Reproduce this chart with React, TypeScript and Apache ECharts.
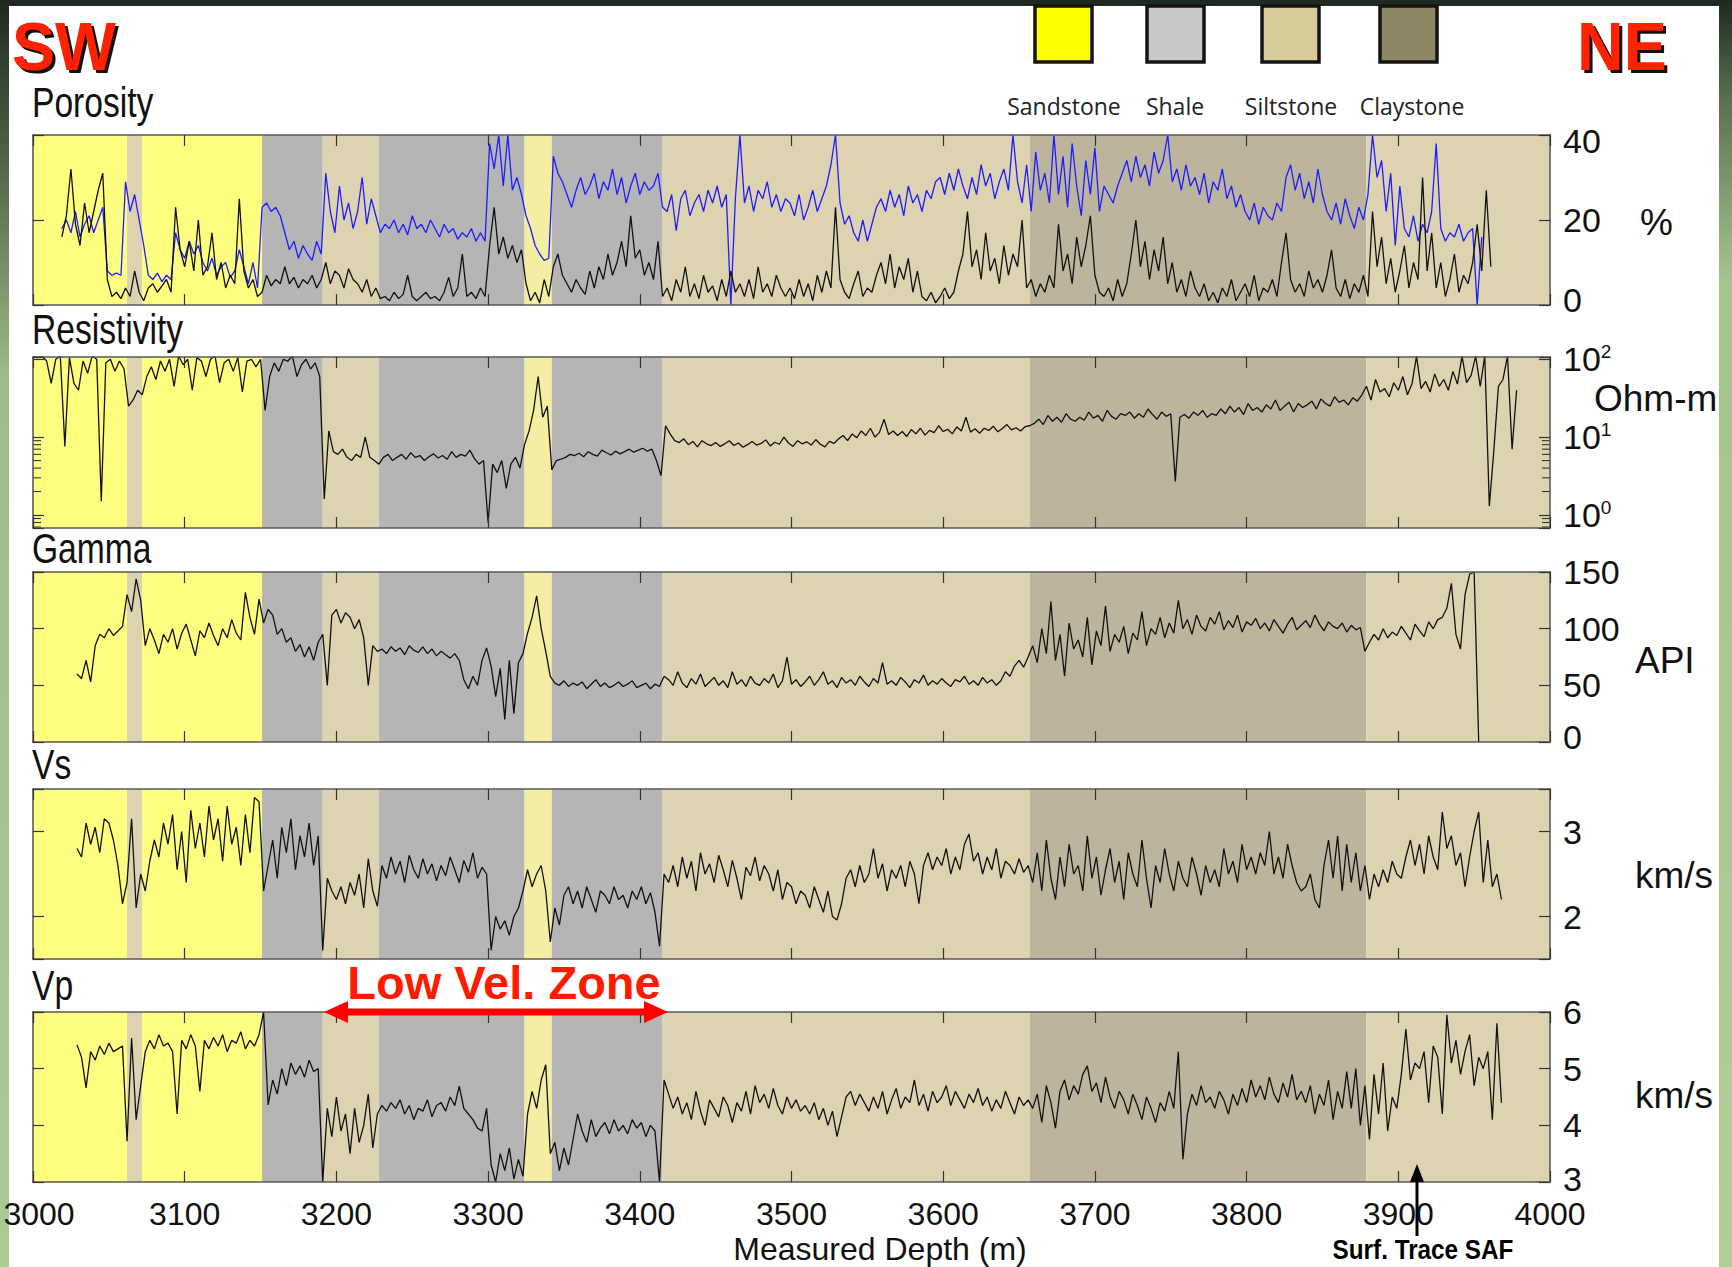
import React, { useEffect, useRef } from "react";
import * as echarts from "echarts";

// ---------- axes ----------
const DEPTH_MIN = 3000;
const DEPTH_MAX = 4000;
const DEPTH_INTERVAL = 100;
const SAMPLE_STEP = 3; // metres between samples

// ---------- lithology ----------
const LITHOLOGY_NAMES = ["Sandstone", "Shale", "Siltstone", "Claystone"];
const LEGEND_COLORS = ["#ffff00", "#c9c9c9", "#d9cc9c", "#8f8665"];
// band colours: 0 sandstone, 1 shale, 2 siltstone, 3 claystone-ish, 4 pale sandstone
const BAND_COLORS = ["#fdfd80", "#b5b5b5", "#ddd3b1", "#bcb49d", "#f4eea2"];
const BAND_TOP = [3000, 3062, 3072, 3151, 3191, 3228, 3324, 3342, 3415, 3657, 3879];
const BAND_BOTTOM = [3062, 3072, 3151, 3191, 3228, 3324, 3342, 3415, 3657, 3879, 4000];
const BAND_TYPE = [0, 2, 0, 1, 2, 1, 4, 1, 2, 3, 2];

// ---------- panels ----------
const PANEL_TITLES = ["Porosity", "Resistivity", "Gamma", "Vs", "Vp"];
const PANEL_UNITS = ["%", "Ohm-m", "API", "km/s", "km/s"];
const RES_MINOR_TICKS = [0.7, 0.8, 0.9, 2, 3, 4, 5, 6, 7, 8, 9];

// ---------- logs (value every SAMPLE_STEP m from the start depth) ----------
const POR_BLACK_START = 3019;
const POR_BLACK = [
  16, 21, 32, 19, 14, 24, 17, 22, 27, 31,
  6, 2, 3, 1.5, 4, 2, 8, 3, 1, 4,
  5, 3, 4.5, 6, 3, 23, 13, 9, 15, 8,
  20, 7, 9, 17, 6, 10, 4, 7, 5, 25,
  8, 4, 6, 2, 3, 7, 4.5, 6, 5, 9,
  5, 6.5, 4, 6, 5, 7, 4, 6, 10, 5,
  8, 7, 4, 8.5, 6, 5, 3, 6, 2, 4,
  1.5, 2, 1, 3, 1.5, 2.5, 7, 2, 1, 2,
  3, 1.5, 2, 1, 3, 6.5, 2, 4, 12, 2,
  3, 1.5, 4, 2, 14, 23, 12, 16, 11, 14,
  10, 13, 5, 1, 3, 0.5, 6, 2, 9, 12,
  7, 5, 3, 6, 4, 2.5, 8, 4, 9, 6,
  12, 7, 10, 15, 9, 21, 11, 13, 7, 10,
  6, 15, 2, 4, 1, 6, 3, 9, 2, 5,
  1.5, 7, 3, 4.5, 1, 6, 2, 8, 3, 5,
  2, 6, 1.5, 9, 3, 5, 2, 7, 4, 2,
  4, 1.5, 6, 2, 5, 1, 7, 3, 8, 4,
  23, 6, 3, 1.5, 5, 8, 2, 4, 3, 7,
  10, 5, 12, 4, 9, 6, 11, 3, 8, 2,
  1, 3, 0.5, 2, 4, 1.5, 3, 8, 12, 22,
  9, 13, 6, 17, 8, 11, 5, 14, 7, 12,
  9, 20, 4, 6, 2, 5, 3, 7, 4, 19,
  8, 12, 5, 16, 9, 14, 21, 7, 3, 2,
  4, 1, 6, 2, 5, 12, 20, 9, 15, 6,
  13, 8, 16, 5, 10, 3, 6, 2, 8, 4,
  2, 5, 1, 3, 0.5, 4, 2, 6, 1, 3,
  5, 2, 7, 1, 4, 3, 6, 2, 10, 17,
  6, 3, 5, 2, 8, 4, 6, 3, 7, 13,
  4, 2, 6, 1.5, 5, 3, 7, 2, 22, 9,
  16, 5, 11, 3, 8, 14, 4, 10, 6, 30,
  8, 17, 4, 10, 2, 6, 12, 3, 7, 5,
  10, 19, 8, 27, 9,
];

const POR_BLUE_START = 3019;
const POR_BLUE = [
  18, 20, 17, 22, 16, 19, 21, 17, 20, 23,
  8, 7, 7.5, 7, 29, 22, 26, 20, 14, 7,
  6, 7.5, 5.5, 7, 6, 17, 13, 11, 15, 12,
  14, 10, 8, 11, 7, 9, 10, 6.5, 8, 13,
  9, 5, 10, 4, 23, 24, 22, 23, 21, 17,
  13, 15, 11, 14, 12, 10.5, 15, 12, 31, 22,
  17, 28, 20, 24, 18, 22, 30, 19, 25, 21,
  17, 19, 18, 20, 17, 19, 16.5, 21, 18, 19,
  17, 20, 18, 16, 19, 17, 18, 15.5, 17, 16,
  18, 15, 17, 15, 38, 32, 40, 28, 40, 27,
  30, 26, 21, 18, 14, 12, 10.5, 11, 35, 31,
  29, 26, 23, 27, 30, 26, 28, 31, 25, 29,
  27, 32, 26, 30, 24, 28, 31, 26, 29, 27,
  28, 31, 23, 22, 26, 17.5, 25, 27, 21, 24,
  26, 22, 27, 24, 28, 23, 26, 0, 25, 40,
  24, 28, 22, 27, 25, 29, 23, 26, 22, 25,
  24, 21, 26, 20, 23, 27, 22, 25, 28, 33,
  40, 24, 19, 21, 17, 15, 20, 15, 19, 23,
  25, 22, 27, 23, 26, 21, 28, 24, 26, 22,
  27, 25, 29, 30, 26, 31, 27, 32, 28, 25,
  30, 26, 33, 28, 31, 25, 29, 32, 27, 40,
  29, 24, 33, 22, 36, 27, 31, 24, 40, 26,
  35, 23, 38, 28, 21, 34, 26, 37, 22, 28,
  26, 24, 28, 31, 34, 29, 35, 30, 33, 28,
  36, 31, 34, 40, 29, 32, 27, 33, 28, 30,
  26, 31, 24, 29, 27, 32, 25, 28, 23, 26,
  22, 20, 24, 19, 23, 21, 20, 24, 22, 30,
  33, 27, 31, 25, 29, 24, 32, 26, 22, 20,
  24, 19, 25, 21, 18, 23, 20, 26, 40, 30,
  34, 22, 31, 14, 28, 18, 16, 21, 15, 19,
  17, 22, 38, 18, 15, 17, 16, 19, 15, 17,
  18, 0, 16,
];

const RES_START = 3000;
const RESISTIVITY = [
  110, 105, 110, 95, 49, 100, 110, 7.6, 105, 49,
  40, 95, 66, 110, 100, 1.5, 90, 100, 70, 95,
  75, 25, 30, 40, 35, 60, 80, 55, 95, 70,
  100, 45, 110, 85, 100, 40, 105, 95, 60, 100,
  110, 50, 90, 100, 70, 105, 38, 95, 100, 80,
  100, 22, 60, 90, 70, 100, 95, 110, 60, 85,
  100, 75, 90, 60, 1.6, 12, 6.5, 6, 7, 5.5,
  5, 6, 5.5, 10, 5.5, 5, 4.5, 5.5, 6, 5,
  5.5, 6, 5.2, 6.3, 5.5, 5.8, 5, 5.6, 6.1, 5.4,
  5.8, 5.2, 6.5, 5.5, 6, 5.7, 6.8, 5.3, 4.5, 5,
  0.8, 4.5, 3.5, 5, 2.2, 4.5, 5.5, 4, 8, 12,
  22, 60, 18, 25, 3.8, 5, 5.2, 5.5, 6, 5.8,
  6.2, 5.6, 6.5, 6, 5.7, 6.8, 6.3, 5.9, 6.6, 6.1,
  6.5, 7, 6.4, 6.8, 7.2, 6.6, 7, 5, 3.2, 14,
  11, 9, 8.5, 9.5, 8, 8.8, 7.5, 9, 8.2, 7.8,
  8.5, 7.6, 8.2, 9, 7.8, 8.4, 7.4, 8, 8.8, 7.9,
  8.3, 9.2, 7.7, 8.6, 8.1, 10, 8.4, 7.6, 9, 8.2,
  8.7, 7.9, 9.3, 8.1, 7.5, 8.8, 8.3, 9.5, 10.5, 9,
  11, 9.8, 12, 10.5, 13, 10, 11.5, 17, 10.8, 12,
  10.5, 11.8, 10.2, 12.5, 11, 13, 10.6, 12.2, 11.4, 14,
  11.8, 12.6, 11, 13.5, 12, 18, 11.6, 12.8, 11.2, 13,
  12.2, 13.8, 11.7, 12.9, 14.5, 12.4, 13.2, 12, 13.6, 14,
  15, 17, 14.5, 19, 16, 18, 15.5, 20, 17, 16,
  18, 16.5, 21, 17.5, 19, 16, 22, 18.5, 17, 20,
  19, 21, 17.5, 20, 18, 23, 19.5, 17, 21, 18.5,
  20, 2.7, 18, 19.5, 17.5, 21, 19, 22, 18, 20,
  19, 23, 20, 25, 21, 24, 19.5, 27, 22, 24,
  21, 26, 23, 30, 22, 25, 28, 21, 27, 24,
  26, 29, 23, 31, 27, 25, 33, 28, 30, 26,
  32, 29, 35, 45, 30, 55, 38, 42, 33, 50,
  40, 60, 35, 48, 110, 42, 52, 38, 65, 45,
  55, 40, 70, 48, 110, 50, 62, 110, 45, 110,
  1.3, 6.8, 45, 55, 110, 7, 40,
];

const GAMMA_START = 3029;
const GAMMA = [
  60, 56, 72, 53, 85, 95, 92, 100, 94, 98,
  102, 130, 115, 144, 125, 85, 100, 90, 78, 95,
  88, 100, 82, 96, 104, 90, 76, 98, 92, 105,
  94, 85, 100, 92, 108, 96, 90, 132, 110, 95,
  126, 105, 117, 112, 95, 100, 88, 92, 80, 86,
  75, 84, 72, 88, 95, 50, 112, 117, 105, 114,
  110, 100, 108, 92, 50, 85, 80, 82, 78, 84,
  80, 83, 77, 85, 81, 79, 84, 78, 82, 76,
  80, 77, 74, 78, 72, 55, 47, 58, 50, 72,
  83, 67, 40, 65, 20, 72, 25, 70, 78, 96,
  110, 129, 100, 80, 58, 52, 50, 54, 49, 52,
  50, 53, 47, 51, 55, 49, 52, 48, 50, 53,
  49, 51, 54, 48, 50, 52, 47, 51, 49, 58,
  55, 50, 62, 52, 48, 56, 51, 60, 49, 53,
  57, 50, 54, 48, 62, 51, 55, 49, 58, 52,
  50, 56, 52, 60, 48, 54, 75, 51, 55, 49,
  53, 58, 50, 55, 62, 51, 54, 48, 57, 52,
  55, 50, 58, 53, 49, 56, 52, 70, 51, 54,
  50, 57, 53, 48, 55, 52, 59, 50, 54, 51,
  56, 52, 49, 55, 53, 58, 51, 54, 50, 57,
  52, 55, 50, 54, 62, 58, 67, 72, 66, 75,
  85, 70, 100, 78, 124, 72, 95, 58, 105, 82,
  90, 75, 110, 68, 98, 85, 120, 80, 95, 88,
  102, 78, 96, 90, 115, 85, 100, 95, 110, 92,
  105, 96, 125, 100, 108, 95, 112, 102, 98, 110,
  104, 115, 99, 107, 101, 112, 97, 106, 103, 109,
  100, 105, 98, 108, 102, 96, 104, 110, 99, 103,
  107, 101, 112, 104, 98, 106, 102, 100, 105, 97,
  103, 99, 101, 80, 88, 95, 90, 100, 92, 97,
  94, 102, 96, 90, 104, 98, 93, 106, 100, 108,
  110, 118, 140, 95, 82, 130, 148, 150, 0,
];

const VS_START = 3029;
const VS = [
  2.8, 2.7, 3.1, 2.85, 3.05, 2.75, 3.15, 3.1, 2.9, 2.6,
  2.15, 2.4, 3.15, 2.1, 2.5, 2.3, 2.65, 2.9, 2.7, 3.1,
  2.85, 3.2, 2.55, 3.0, 2.4, 3.25, 2.8, 3.1, 2.7, 3.3,
  2.9, 3.15, 2.65, 3.3, 2.85, 3.05, 2.6, 3.2, 2.75, 3.4,
  3.35, 2.3, 2.6, 2.9, 2.45, 3.05, 2.75, 3.15, 2.55, 2.95,
  2.7, 3.1, 2.6, 2.95, 1.6, 2.45, 2.3, 2.2, 2.35, 2.15,
  2.4, 2.25, 2.5, 2.1, 2.68, 2.3, 2.12, 2.6, 2.45, 2.7,
  2.5, 2.65, 2.4, 2.72, 2.55, 2.45, 2.68, 2.5, 2.62, 2.42,
  2.6, 2.48, 2.7, 2.55, 2.4, 2.66, 2.52, 2.75, 2.45, 2.58,
  2.5, 1.6, 2.0, 1.85, 1.95, 1.78, 2.0, 2.1, 2.3, 2.55,
  2.35, 2.5, 2.6, 2.3, 1.7, 2.1, 1.9, 2.25, 2.35, 2.15,
  2.3, 2.1, 2.35, 2.2, 2.05, 2.3, 2.25, 2.15, 2.35, 2.2,
  2.25, 2.1, 2.3, 2.2, 2.35, 2.15, 2.28, 2.05, 1.65, 2.5,
  2.4, 2.6, 2.35, 2.7, 2.45, 2.65, 2.3, 2.75, 2.5, 2.62,
  2.4, 2.72, 2.55, 2.35, 2.66, 2.45, 2.2, 2.58, 2.48, 2.7,
  2.42, 2.6, 2.5, 2.3, 2.55, 2.2, 2.4, 2.35, 2.15, 2.3,
  2.25, 2.1, 2.35, 2.2, 2.05, 2.3, 2.0, 1.96, 2.15, 2.45,
  2.55, 2.35, 2.6, 2.4, 2.5, 2.8, 2.45, 2.62, 2.3, 2.55,
  2.45, 2.6, 2.35, 2.65, 2.5, 2.15, 2.6, 2.75, 2.55, 2.7,
  2.6, 2.8, 2.5, 2.7, 2.55, 2.85, 2.97, 2.65, 2.75, 2.5,
  2.7, 2.55, 2.8, 2.45, 2.65, 2.6, 2.5, 2.68, 2.52, 2.6,
  2.4, 2.75, 2.3, 2.9, 2.45, 2.2, 2.7, 2.35, 2.85, 2.5,
  2.6, 2.3, 2.95, 2.45, 2.7, 2.25, 2.55, 2.8, 2.4, 2.65,
  2.2, 2.75, 2.5, 2.35, 2.9, 2.45, 2.1, 2.6, 2.4, 2.8,
  2.5, 2.3, 2.65, 2.45, 2.35, 2.7, 2.5, 2.25, 2.6, 2.4,
  2.55, 2.35, 2.8, 2.5, 2.65, 2.4, 2.85, 2.55, 2.7, 2.5,
  2.75, 2.6, 3.0, 2.5, 2.7, 2.45, 2.85, 2.6, 2.4, 2.3,
  2.35, 2.5, 2.2, 2.1, 2.6, 2.9, 2.45, 2.95, 2.3, 2.85,
  2.4, 2.75, 2.3, 2.6, 2.2, 2.5, 2.35, 2.55, 2.4, 2.65,
  2.5, 2.45, 2.7, 2.9, 2.6, 2.85, 2.5, 2.95, 2.7, 2.55,
  3.23, 2.8, 2.95, 2.6, 2.75, 2.35, 2.7, 3.0, 3.23, 2.4,
  2.9, 2.35, 2.5, 2.2,
];

const VP_START = 3029;
const VP = [
  5.42, 5.2, 4.66, 5.3, 5.15, 5.4, 5.25, 5.45, 5.3, 5.35,
  5.4, 3.72, 5.54, 4.1, 4.7, 5.3, 5.5, 5.35, 5.6, 5.4,
  5.45, 5.3, 4.2, 5.5, 5.35, 5.6, 5.4, 4.6, 5.5, 5.35,
  5.55, 5.4, 5.6, 5.3, 5.5, 5.45, 5.65, 5.35, 5.5, 5.4,
  5.6, 6.0, 4.36, 4.8, 4.55, 5.0, 4.7, 5.1, 4.9, 5.05,
  4.85, 5.15, 4.95, 5.0, 3.0, 4.3, 3.8, 4.5, 3.9, 4.2,
  3.5, 4.3, 3.7, 4.0, 4.55, 3.6, 4.2, 4.35, 4.25, 4.4,
  4.3, 4.45, 4.2, 4.35, 4.1, 4.3, 4.25, 4.45, 4.15, 4.35,
  4.4, 4.25, 4.5, 4.35, 4.69, 4.3, 4.2, 4.1, 3.95, 3.9,
  4.3, 3.3, 3.0, 3.5, 3.2, 3.6, 3.05, 3.4, 3.1, 4.2,
  4.6, 4.3, 4.8, 5.07, 3.5, 3.7, 3.2, 3.6, 3.3, 3.75,
  4.2, 3.9, 3.7, 4.1, 3.8, 3.95, 4.05, 3.85, 4.1, 3.9,
  4.0, 3.85, 4.1, 3.95, 4.05, 3.8, 4.0, 3.9, 3.0, 4.8,
  4.55, 4.3, 4.5, 4.2, 4.4, 4.1, 4.6, 4.25, 4.0, 4.45,
  4.3, 4.15, 4.5, 4.35, 4.05, 4.4, 4.25, 4.6, 4.2, 4.7,
  4.4, 4.55, 4.3, 4.65, 4.35, 4.2, 4.5, 4.3, 4.45, 4.25,
  4.35, 4.2, 4.4, 4.1, 4.3, 4.0, 4.25, 3.8, 4.15, 4.5,
  4.6, 4.35, 4.55, 4.4, 4.25, 4.5, 4.3, 4.6, 4.2, 4.45,
  4.65, 4.3, 4.5, 4.4, 4.8, 4.35, 4.55, 4.25, 4.6, 4.4,
  4.5, 4.7, 4.35, 4.6, 4.45, 4.3, 4.55, 4.4, 4.65, 4.35,
  4.5, 4.25, 4.45, 4.3, 4.6, 4.4, 4.2, 4.5, 4.35, 4.45,
  4.3, 4.55, 4.05, 4.7, 4.4, 3.95, 4.6, 4.8, 4.45, 4.7,
  4.55, 4.9, 5.05, 4.6, 4.75, 4.4, 4.85, 4.5, 4.3, 4.6,
  4.45, 4.2, 4.55, 4.35, 4.1, 4.5, 4.3, 4.05, 4.4, 4.25,
  4.6, 4.3, 5.3, 3.4, 4.2, 4.55, 4.35, 4.7, 4.4, 4.5,
  4.3, 4.6, 4.45, 4.2, 4.55, 4.35, 4.65, 4.4, 4.8, 4.5,
  4.7, 4.45, 4.85, 4.55, 4.4, 4.75, 4.5, 4.9, 4.45, 4.6,
  4.4, 4.7, 4.2, 4.55, 4.35, 4.8, 4.1, 4.6, 4.3, 4.95,
  4.3, 5.0, 4.0, 4.7, 3.75, 4.9, 4.2, 5.1, 3.9, 4.5,
  4.3, 4.9, 5.7, 4.8, 5.1, 5.0, 5.3, 4.4, 5.4, 5.2,
  4.2, 5.95, 5.1, 5.5, 4.9, 5.3, 5.6, 4.7, 5.2, 5.0,
  5.3, 4.1, 5.8, 4.4,
];

// ---------- layout ----------
const W = 1732;
const H = 1267;
const PLOT_LEFT = 33;
const PLOT_RIGHT = 1550;
const GRID_TOPS = [135, 357, 572, 789, 1012];
const GRID_HEIGHTS = [170, 171, 170, 170, 170];
const TITLE_Y = [103, 330, 549, 765, 986];
const UNIT_Y = [222, 398, 660, 875, 1095];
const UNIT_X = [1640, 1594, 1635, 1635, 1635];

const FONT = "'Liberation Sans', Arial, sans-serif";
const AXIS_COLOR = "#5a5a5a";
const TICK_COLOR = "#333";

function toPairs(start: number, values: number[]) {
  return values.map((v, i) => [start + i * SAMPLE_STEP, v]);
}

function yAxisRange(i: number) {
  if (i === 0) return { type: "value", min: 0, max: 40, interval: 20 };
  if (i === 1) return { type: "log", logBase: 10, min: 0.68, max: 107 };
  if (i === 2) return { type: "value", min: 0, max: 150, interval: 50 };
  if (i === 3) return { type: "value", min: 1.5, max: 3.5, splitNumber: 2 };
  return { type: "value", min: 3, max: 6, interval: 1 };
}

// right-hand tick label text; end labels nudged inward like the original figure
function labelFormatter(i: number) {
  return (v: number) => {
    if (i === 1) {
      const l = Math.log10(v);
      const e = Math.round(l);
      return Math.abs(l - e) < 1e-6 ? `{b|10}{s|${e}}` : "";
    }
    if (i === 3) return Number.isInteger(v) ? String(v) : "";
    if (i === 0 && v === 40) return `{dn|${v}}`;
    if ((i === 0 || i === 2) && v === 0) return `{up|${v}}`;
    if (i === 4 && v === 3) return `{up2|${v}}`;
    return String(v);
  };
}

export default function App() {
  const ref = useRef<HTMLDivElement>(null);

  useEffect(() => {
    if (!ref.current) return;
    const chart = echarts.init(ref.current, undefined, { renderer: "svg" });

    const grids: any[] = [];
    const xAxes: any[] = [];
    const yAxes: any[] = [];
    const series: any[] = [];

    const bandData = BAND_TOP.map((t, k) => [t, BAND_BOTTOM[k], BAND_TYPE[k]]);
    const lbl = { fontSize: 34, color: "#111", fontFamily: FONT };

    for (let i = 0; i < 5; i++) {
      grids.push({
        left: PLOT_LEFT,
        width: PLOT_RIGHT - PLOT_LEFT,
        top: GRID_TOPS[i],
        height: GRID_HEIGHTS[i],
        show: false,
        containLabel: false,
        outerBoundsMode: "none",
      });
      const isLast = i === 4;
      const xBase = {
        type: "value",
        gridIndex: i,
        min: DEPTH_MIN,
        max: DEPTH_MAX,
        interval: DEPTH_INTERVAL,
        z: 10,
        splitLine: { show: false },
        axisLine: { show: true, onZero: false, lineStyle: { color: AXIS_COLOR, width: 1.6 } },
        axisTick: { show: true, inside: true, length: 11, lineStyle: { color: TICK_COLOR, width: 1.2 } },
      };
      xAxes.push({
        ...xBase,
        position: "bottom",
        axisLabel: isLast
          ? {
              show: true,
              fontSize: 32,
              color: "#111",
              margin: 16,
              fontFamily: FONT,
              showMinLabel: true,
              showMaxLabel: true,
              hideOverlap: false,
              formatter: (v: number) => (v === DEPTH_MIN ? `{m|${v}}` : String(v)),
              rich: { m: { fontSize: 32, color: "#111", fontFamily: FONT, padding: [0, 0, 0, 12] } },
            }
          : { show: false },
      });
      xAxes.push({ ...xBase, position: "top", axisLabel: { show: false } });

      const yr = yAxisRange(i);
      const yBase = {
        ...yr,
        gridIndex: i,
        z: 10,
        splitLine: { show: false },
        axisLine: { show: true, onZero: false, lineStyle: { color: AXIS_COLOR, width: 1.6 } },
        axisTick: { show: true, inside: true, length: 11, lineStyle: { color: TICK_COLOR, width: 1.2 } },
      };
      yAxes.push({ ...yBase, position: "left", axisLabel: { show: false } });
      yAxes.push({
        ...yBase,
        position: "right",
        axisLabel: {
          show: true,
          ...lbl,
          margin: 13,
          showMinLabel: true,
          showMaxLabel: true,
          hideOverlap: false,
          formatter: labelFormatter(i),
          rich: {
            b: { ...lbl },
            s: { fontSize: 19, color: "#111", fontFamily: FONT, verticalAlign: "top" },
            dn: { ...lbl, padding: [11, 0, 0, 0] },
            up: { ...lbl, padding: [0, 0, 11, 0] },
            up2: { ...lbl, padding: [0, 0, 6, 0] },
          },
        },
      });

      // lithology bands
      series.push({
        type: "custom",
        xAxisIndex: 2 * i,
        yAxisIndex: 2 * i + 1,
        z: 1,
        silent: true,
        data: bandData,
        renderItem: (params: any, api: any) => {
          const p0 = api.coord([api.value(0), 1]);
          const p1 = api.coord([api.value(1), 1]);
          const cs = params.coordSys;
          return {
            type: "rect",
            shape: { x: p0[0], y: cs.y, width: p1[0] - p0[0], height: cs.height },
            style: { fill: BAND_COLORS[api.value(2)] },
          };
        },
      });
    }

    const line = (i: number, start: number, values: number[], color: string, name: string) => ({
      type: "line",
      name,
      xAxisIndex: 2 * i,
      yAxisIndex: 2 * i + 1,
      data: toPairs(start, values),
      showSymbol: false,
      symbol: "none",
      clip: true,
      z: 3,
      silent: true,
      lineStyle: { color, width: 1.3 },
    });

    series.push(line(0, POR_BLUE_START, POR_BLUE, "#1c1cff", "Porosity (neutron)"));
    series.push(line(0, POR_BLACK_START, POR_BLACK, "#111", "Porosity"));
    series.push(line(1, RES_START, RESISTIVITY, "#111", "Resistivity"));
    series.push(line(2, GAMMA_START, GAMMA, "#111", "Gamma"));
    series.push(line(3, VS_START, VS, "#111", "Vs"));
    series.push(line(4, VP_START, VP, "#111", "Vp"));

    // resistivity minor log ticks
    series.push({
      type: "custom",
      xAxisIndex: 2,
      yAxisIndex: 3,
      z: 6,
      silent: true,
      data: RES_MINOR_TICKS.map((v) => [DEPTH_MIN, v]),
      renderItem: (params: any, api: any) => {
        const y = api.coord([DEPTH_MIN, api.value(1)])[1];
        const cs = params.coordSys;
        const st = { stroke: TICK_COLOR, lineWidth: 1.1 };
        return {
          type: "group",
          children: [
            { type: "line", shape: { x1: cs.x, y1: y, x2: cs.x + 8, y2: y }, style: st },
            { type: "line", shape: { x1: cs.x + cs.width - 8, y1: y, x2: cs.x + cs.width, y2: y }, style: st },
          ],
        };
      },
    });

    const graphic: any[] = [];
    // frame decoration (kept below axis labels)
    graphic.push({ type: "rect", z: 0, shape: { x: 0, y: 0, width: W, height: 6 }, style: { fill: "#1e2a21" } });
    graphic.push({
      type: "rect",
      z: 0,
      shape: { x: 0, y: 0, width: 9, height: H },
      style: {
        fill: new echarts.graphic.LinearGradient(0, 0, 0, 1, [
          { offset: 0, color: "#1e2a21" },
          { offset: 0.12, color: "#4d6243" },
          { offset: 0.3, color: "#9fbc88" },
          { offset: 1, color: "#adc994" },
        ]),
      },
    });
    graphic.push({
      type: "rect",
      z: 0,
      shape: { x: 1719, y: 0, width: 13, height: H },
      style: {
        fill: new echarts.graphic.LinearGradient(0, 0, 0, 1, [
          { offset: 0, color: "#1e2a21" },
          { offset: 0.08, color: "#5a7250" },
          { offset: 0.22, color: "#a6c38e" },
          { offset: 1, color: "#b2cd97" },
        ]),
      },
    });

    // SW / NE
    const bigLabel = (text: string, x: number) => [
      { type: "text", z: 101, x: x + 3, y: 49, scaleX: 0.95, style: { text, fontSize: 68, fontWeight: "bold", fontFamily: FONT, fill: "#111", align: "left", verticalAlign: "middle" } },
      { type: "text", z: 102, x, y: 46, scaleX: 0.95, style: { text, fontSize: 68, fontWeight: "bold", fontFamily: FONT, fill: "#ff2200", align: "left", verticalAlign: "middle" } },
    ];
    graphic.push(...bigLabel("SW", 12));
    graphic.push(...bigLabel("NE", 1577));

    // lithology legend
    const boxX = [1035, 1147, 1262, 1380];
    const labelX = [1064, 1175, 1291, 1412];
    LITHOLOGY_NAMES.forEach((name, k) => {
      graphic.push({
        type: "rect",
        z: 101,
        shape: { x: boxX[k], y: 6, width: 57, height: 56 },
        style: { fill: LEGEND_COLORS[k], stroke: "#141414", lineWidth: 3.5 },
      });
      graphic.push({
        type: "text",
        z: 101,
        x: labelX[k],
        y: 106,
        style: { text: name, fontSize: 23, fontFamily: "'Open Sans', sans-serif", fill: "#222", align: "center", verticalAlign: "middle" },
      });
    });

    // panel titles and units
    PANEL_TITLES.forEach((t, k) => {
      graphic.push({
        type: "text",
        z: 101,
        x: 32,
        y: TITLE_Y[k],
        scaleX: 0.8,
        style: { text: t, fontSize: 42, fontFamily: FONT, fill: "#111", align: "left", verticalAlign: "middle" },
      });
      graphic.push({
        type: "text",
        z: 101,
        x: UNIT_X[k],
        y: UNIT_Y[k],
        style: { text: PANEL_UNITS[k], fontSize: 37, fontFamily: FONT, fill: "#111", align: "left", verticalAlign: "middle" },
      });
    });

    // x-axis title
    graphic.push({
      type: "text",
      z: 101,
      x: 880,
      y: 1249,
      style: { text: "Measured Depth (m)", fontSize: 32, fontFamily: FONT, fill: "#111", align: "center", verticalAlign: "middle" },
    });

    // Low velocity zone annotation
    graphic.push({
      type: "text",
      z: 103,
      x: 504,
      y: 982,
      style: { text: "Low Vel. Zone", fontSize: 47, fontWeight: "bold", fontFamily: FONT, fill: "#ff1a00", align: "center", verticalAlign: "middle" },
    });
    graphic.push({ type: "line", z: 103, shape: { x1: 344, y1: 1012, x2: 648, y2: 1012 }, style: { stroke: "#ff0000", lineWidth: 7 } });
    graphic.push({ type: "polygon", z: 103, shape: { points: [[324, 1012], [348, 1001], [348, 1023]] }, style: { fill: "#ff0000" } });
    graphic.push({ type: "polygon", z: 103, shape: { points: [[668, 1012], [644, 1001], [644, 1023]] }, style: { fill: "#ff0000" } });

    // Surface trace annotation
    graphic.push({ type: "line", z: 103, shape: { x1: 1417, y1: 1178, x2: 1417, y2: 1236 }, style: { stroke: "#000", lineWidth: 3 } });
    graphic.push({ type: "polygon", z: 103, shape: { points: [[1417, 1164], [1410, 1182], [1424, 1182]] }, style: { fill: "#000" } });
    graphic.push({
      type: "text",
      z: 103,
      x: 1423,
      y: 1250,
      scaleX: 0.9,
      style: { text: "Surf. Trace SAF", fontSize: 27, fontWeight: "bold", fontFamily: FONT, fill: "#000", align: "center", verticalAlign: "middle" },
    });

    chart.setOption({
      animation: false,
      backgroundColor: "#ffffff",
      textStyle: { fontFamily: FONT },
      grid: grids,
      xAxis: xAxes,
      yAxis: yAxes,
      series,
      graphic,
    });

    return () => chart.dispose();
  }, []);

  return <div ref={ref} style={{ position: "absolute", left: 0, top: 0, width: W, height: H }} />;
}
